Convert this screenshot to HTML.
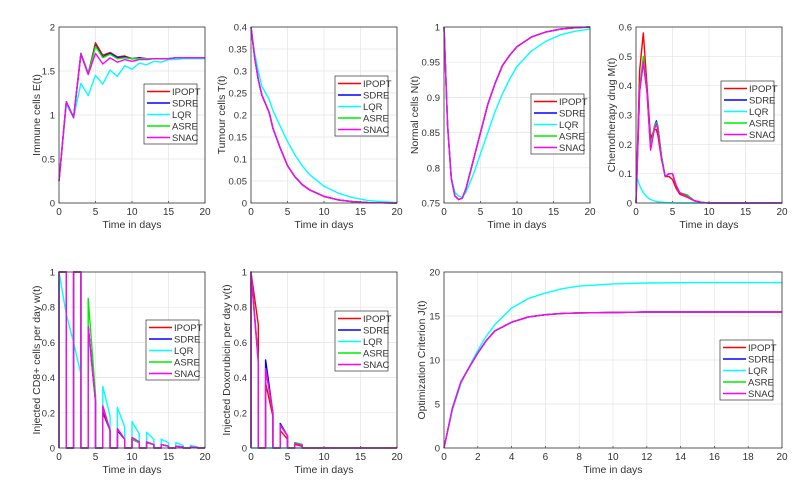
<!DOCTYPE html>
<html><head><meta charset="utf-8"><style>
body{margin:0;background:#fff;}
svg{display:block;font-family:"Liberation Sans",sans-serif;}
</style></head><body>
<svg id="fig" width="810" height="501" viewBox="0 0 810 501"></svg>
<script>
const seriesNames=["IPOPT","SDRE","LQR","ASRE","SNAC"];
const seriesColors=["#ff0000","#0000ff","#00ffff","#00ee00","#ff00ff"];

// Panel 1: immune cells E(t)
const eX=[0,1,2,3,4,5,6,7,8,9,10,11,12,13,14,15,16,17,18,19,20];
const eIPOPT=[0.25,1.15,0.97,1.70,1.47,1.82,1.68,1.71,1.66,1.67,1.64,1.65,1.64,1.64,1.64,1.64,1.65,1.65,1.65,1.65,1.65];
const eSDRE=[0.25,1.15,0.97,1.70,1.47,1.79,1.66,1.70,1.65,1.66,1.64,1.65,1.64,1.64,1.64,1.64,1.65,1.65,1.65,1.65,1.65];
const eLQR=[0.25,1.12,0.97,1.36,1.22,1.45,1.35,1.51,1.44,1.56,1.52,1.59,1.57,1.61,1.60,1.63,1.63,1.64,1.64,1.64,1.64];
const eASRE=[0.25,1.15,0.97,1.70,1.47,1.78,1.65,1.69,1.64,1.65,1.64,1.64,1.64,1.64,1.64,1.64,1.65,1.65,1.65,1.65,1.65];
const eSNAC=[0.25,1.15,0.97,1.69,1.46,1.70,1.58,1.65,1.60,1.63,1.61,1.63,1.63,1.64,1.64,1.64,1.65,1.65,1.65,1.65,1.65];

// Panel 2: tumour cells T(t)
const tX=[0,0.5,1,1.5,2,2.5,3,4,5,6,7,8,10,12,14,16,18,20];
const tMain=[0.4,0.33,0.28,0.245,0.225,0.205,0.17,0.125,0.085,0.06,0.042,0.03,0.015,0.007,0.003,0.001,0.0005,0];
const tLQR=[0.4,0.34,0.30,0.265,0.25,0.235,0.21,0.175,0.14,0.11,0.085,0.065,0.038,0.022,0.012,0.006,0.003,0.001];

// Panel 3: normal cells N(t)
const nX=[0,0.5,1,1.5,2,2.5,3,4,5,6,7,8,9,10,12,14,16,18,20];
const nMain=[1,0.86,0.785,0.76,0.755,0.757,0.77,0.81,0.85,0.89,0.92,0.945,0.96,0.972,0.986,0.993,0.997,0.999,1.0];
const nLQR=[1,0.86,0.787,0.765,0.76,0.758,0.765,0.79,0.82,0.85,0.88,0.905,0.926,0.944,0.966,0.98,0.989,0.994,0.997];

// Panel 4: chemotherapy drug M(t)
const mX=[0,0.5,1,1.5,2,2.5,2.8,3,3.5,4,4.5,5,5.5,6,7,8,9,10,12,20];
const mIPOPT=[0,0.45,0.58,0.4,0.22,0.25,0.25,0.23,0.15,0.09,0.09,0.08,0.05,0.03,0.02,0.007,0.002,0,0,0];
const mSDRE=[0,0.38,0.48,0.38,0.19,0.26,0.28,0.26,0.16,0.09,0.1,0.1,0.06,0.035,0.025,0.008,0.002,0,0,0];
const mLQR=[0.1,0.06,0.035,0.02,0.012,0.007,0.005,0.004,0.003,0.002,0.001,0.001,0,0,0,0,0,0,0,0];
const mASRE=[0,0.39,0.50,0.38,0.19,0.26,0.275,0.26,0.16,0.09,0.1,0.1,0.06,0.035,0.028,0.008,0.002,0,0,0];
const mSNAC=[0,0.38,0.48,0.38,0.18,0.25,0.27,0.25,0.15,0.09,0.1,0.1,0.06,0.035,0.022,0.008,0.002,0,0,0];

// Panel 5: injected CD8+ per day (start/end value in each day interval)
const wIPOPTs=[1,0,1,0,0.69,0,0.2,0,0.1,0,0.05,0,0.03,0,0.02,0,0.01,0,0.005,0];
const wIPOPTe=[1,0,1,0,0.27,0,0.1,0,0.05,0,0.03,0,0.02,0,0.01,0,0.005,0,0.003,0];
const wSDREs=[1,0,1,0,0.69,0,0.22,0,0.1,0,0.05,0,0.03,0,0.02,0,0.01,0,0.005,0];
const wSDREe=[1,0,1,0,0.27,0,0.1,0,0.05,0,0.03,0,0.02,0,0.01,0,0.005,0,0.003,0];
const wLQRs=[1,0.76,0.6,0,0.66,0,0.35,0,0.23,0,0.15,0,0.09,0,0.05,0,0.03,0,0.015,0];
const wLQRe=[0.76,0.6,0.42,0,0.3,0,0.18,0,0.12,0,0.08,0,0.05,0,0.03,0,0.015,0,0.005,0];
const wASREs=[1,0,1,0,0.85,0,0.23,0,0.11,0,0.05,0,0.03,0,0.02,0,0.01,0,0.005,0];
const wASREe=[1,0,1,0,0.3,0,0.1,0,0.05,0,0.03,0,0.02,0,0.01,0,0.005,0,0.003,0];
const wSNACs=[1,0,1,0,0.69,0,0.24,0,0.11,0,0.06,0,0.035,0,0.02,0,0.01,0,0.005,0];
const wSNACe=[1,0,1,0,0.26,0,0.1,0,0.05,0,0.035,0,0.02,0,0.01,0,0.006,0,0.003,0];

// Panel 6: injected doxorubicin per day
const vIPOPTs=[1,0,0.37,0,0.1,0,0.02,0,0,0,0,0,0,0,0,0,0,0,0,0];
const vIPOPTe=[0.7,0,0.18,0,0.05,0,0.01,0,0,0,0,0,0,0,0,0,0,0,0,0];
const vSDREs=[1,0,0.5,0,0.14,0,0.03,0,0,0,0,0,0,0,0,0,0,0,0,0];
const vSDREe=[0.5,0,0.2,0,0.07,0,0.02,0,0,0,0,0,0,0,0,0,0,0,0,0];
const vLQRs=[0,0,0,0,0,0,0,0,0,0,0,0,0,0,0,0,0,0,0,0];
const vLQRe=[0,0,0,0,0,0,0,0,0,0,0,0,0,0,0,0,0,0,0,0];
const vASREs=[1,0,0.45,0,0.13,0,0.03,0,0,0,0,0,0,0,0,0,0,0,0,0];
const vASREe=[0.5,0,0.2,0,0.07,0,0.02,0,0,0,0,0,0,0,0,0,0,0,0,0];
const vSNACs=[1,0,0.45,0,0.13,0,0.025,0,0,0,0,0,0,0,0,0,0,0,0,0];
const vSNACe=[0.48,0,0.2,0,0.07,0,0.015,0,0,0,0,0,0,0,0,0,0,0,0,0];

// Panel 7: optimization criterion J(t)
const jX=[0,0.5,1,1.5,2,2.5,3,4,5,6,7,8,10,12,15,20];
const jMain=[0,4.5,7.5,9.2,10.8,12.2,13.3,14.3,14.9,15.15,15.3,15.35,15.4,15.45,15.45,15.45];
const jLQR=[0,4.3,7.3,9.3,11.1,12.7,14,15.9,17,17.6,18.1,18.4,18.65,18.75,18.8,18.8];

const yTicksE=["0","0.5","1","1.5","2"];
const yTicksT=["0","0.05","0.1","0.15","0.2","0.25","0.3","0.35","0.4"];
const yTicksN=["0.75","0.8","0.85","0.9","0.95","1"];
const yTicksM=["0","0.1","0.2","0.3","0.4","0.5","0.6"];
const yTicks01=["0","0.2","0.4","0.6","0.8","1"];
const yTicksJ=["0","5","10","15","20"];
const xTicks5=["0","5","10","15","20"];
const xTicks2=["0","2","4","6","8","10","12","14","16","18","20"];

const NS="http://www.w3.org/2000/svg";
const svg=document.getElementById('fig');
function mk(tag,attrs,parent){const e=document.createElementNS(NS,tag);for(const k in attrs)e.setAttribute(k,attrs[k]);(parent||svg).appendChild(e);return e;}

function pulse(s,e){const xs=[],ys=[];for(let i=0;i<s.length;i++){xs.push(i,i,i+1,i+1);ys.push(0,s[i],e[i],0);}return [xs,ys];}

function panel(p){
  const g=mk('g',{});
  
  
  const L=p.box[0],T=p.box[1],R=p.box[2],B=p.box[3];
  const sx=v=>L+(v-p.xr[0])/(p.xr[1]-p.xr[0])*(R-L);
  const sy=v=>B-(v-p.yr[0])/(p.yr[1]-p.yr[0])*(B-T);
  const bg=mk('rect',{x:L,y:T,width:R-L,height:B-T,fill:'#fff'},g);
  
  
  p.xt.forEach(t=>{const v=parseFloat(t),x=sx(v);
    mk('line',{x1:x,x2:x,y1:T,y2:B,stroke:'#e4e4e4','stroke-width':0.7},g);
    mk('line',{x1:x,x2:x,y1:B,y2:B-2,stroke:'#333','stroke-width':0.7},g);
    const tx=mk('text',{x:x,y:B+12,'font-size':10,'text-anchor':'middle',fill:'#333'},g);tx.textContent=t;
    
    });
  p.yt.forEach(t=>{const v=parseFloat(t),y=sy(v);
    mk('line',{x1:L,x2:R,y1:y,y2:y,stroke:'#e4e4e4','stroke-width':0.7},g);
    const tx=mk('text',{x:L-4,y:y+3.5,'font-size':9.5,'text-anchor':'end',fill:'#333'},g);tx.textContent=t;
    
    });
  p.series.forEach((s,i)=>{
    const d=s[0].map((x,k)=>(k?'L':'M')+sx(x).toFixed(1)+','+sy(s[1][k]).toFixed(1)).join('');
    const pa=mk('path',{d:d,fill:'none',stroke:seriesColors[i],'stroke-width':1.4,'stroke-linejoin':'round'},g);
    
    
  });
  mk('rect',{x:L,y:T,width:R-L,height:B-T,fill:'none',stroke:'#333','stroke-width':0.8},g);
  const xl=mk('text',{x:(L+R)/2,y:B+25,'font-size':10.5,'text-anchor':'middle',fill:'#333'},g);xl.textContent='Time in days';
  
  
  const yl=mk('text',{x:0,y:0,'font-size':10.5,'text-anchor':'middle',fill:'#333',transform:`translate(${p.ylx},${(T+B)/2}) rotate(-90)`},g);yl.textContent=p.ylabel;
  
  
  const lg=mk('g',{},g);
  
  
  const lx=p.leg[0],ly=p.leg[1];
  mk('rect',{x:lx,y:ly,width:53,height:60,fill:'#fff',stroke:'#333','stroke-width':0.7},lg);
  seriesNames.forEach((n,i)=>{const yy=ly+7.5+i*11.5;
    const en=mk('g',{},lg);
    
    
    mk('line',{x1:lx+3,x2:lx+26,y1:yy,y2:yy,stroke:seriesColors[i],'stroke-width':1.6},en);
    const t=mk('text',{x:lx+28,y:yy+3.5,'font-size':9.5,fill:'#333'},en);t.textContent=n;});
}

panel({name:'immune-cells-panel',box:[59,27,205,203],xr:[0,20],yr:[0,2],xt:xTicks5,yt:yTicksE,ylabel:'Immune cells E(t)',ylx:40,leg:[144,84],
 series:[[eX,eIPOPT],[eX,eSDRE],[eX,eLQR],[eX,eASRE],[eX,eSNAC]]});
panel({name:'tumour-cells-panel',box:[251,27,397,203],xr:[0,20],yr:[0,0.4],xt:xTicks5,yt:yTicksT,ylabel:'Tumour cells T(t)',ylx:225,leg:[335,76],
 series:[[tX,tMain],[tX,tMain],[tX,tLQR],[tX,tMain],[tX,tMain]]});
panel({name:'normal-cells-panel',box:[444,27,590,203],xr:[0,20],yr:[0.75,1],xt:xTicks5,yt:yTicksN,ylabel:'Normal cells N(t)',ylx:418,leg:[531,94],
 series:[[nX,nMain],[nX,nMain],[nX,nLQR],[nX,nMain],[nX,nMain]]});
panel({name:'chemotherapy-panel',box:[636,27,782,203],xr:[0,20],yr:[0,0.6],xt:xTicks5,yt:yTicksM,ylabel:'Chemotherapy drug M(t)',ylx:615,leg:[721,81],
 series:[[mX,mIPOPT],[mX,mSDRE],[mX,mLQR],[mX,mASRE],[mX,mSNAC]]});
panel({name:'cd8-injection-panel',box:[59,272,205,448],xr:[0,20],yr:[0,1],xt:xTicks5,yt:yTicks01,ylabel:'Injected CD8+ cells per day w(t)',ylx:40,leg:[146,320],
 series:[pulse(wIPOPTs,wIPOPTe),pulse(wSDREs,wSDREe),pulse(wLQRs,wLQRe),pulse(wASREs,wASREe),pulse(wSNACs,wSNACe)]});
panel({name:'doxorubicin-injection-panel',box:[251,272,397,448],xr:[0,20],yr:[0,1],xt:xTicks5,yt:yTicks01,ylabel:'Injected Doxorubicin per day v(t)',ylx:230,leg:[335,311],
 series:[pulse(vIPOPTs,vIPOPTe),pulse(vSDREs,vSDREe),pulse(vLQRs,vLQRe),pulse(vASREs,vASREe),pulse(vSNACs,vSNACe)]});
panel({name:'optimization-criterion-panel',box:[444,272,782,448],xr:[0,20],yr:[0,20],xt:xTicks2,yt:yTicksJ,ylabel:'Optimization Criterion J(t)',ylx:425,leg:[720,340],
 series:[[jX,jMain],[jX,jMain],[jX,jLQR],[jX,jMain],[jX,jMain]]});
</script>
</body></html>
